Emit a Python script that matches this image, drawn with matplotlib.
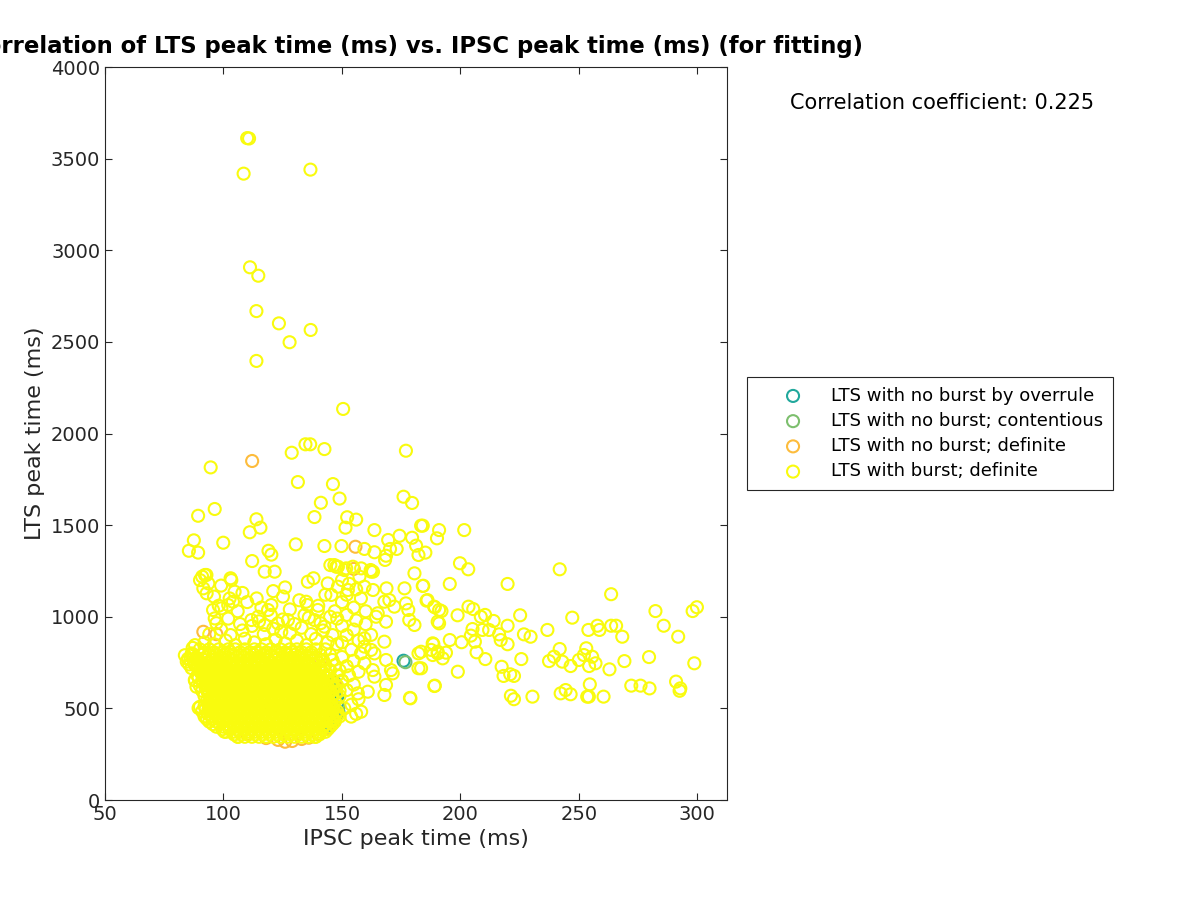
import numpy as np
import matplotlib
matplotlib.use('Agg')
import matplotlib.pyplot as plt

# Colours of the four LTS classes (parula-like, as in the original figure)
COL_OVERRULE = '#21a89c'
COL_CONTENT = '#7dbf6e'
COL_NOBURST = '#fdbc3c'
COL_BURST = '#f9fb0e'

# ---- data: (IPSC peak time, LTS peak time) in ms ----
overrule_pts = [(176.0, 760), (148.5, 480), (148.0, 530), (147.5, 600), (147.0, 445),
                (145.0, 410), (148.0, 560)]
contentious_pts = [(176.8, 752), (147.0, 640), (148.5, 505), (146.5, 580), (144.0, 390)]
noburst_pts = [(112.1, 1850), (155.7, 1382), (155.0, 1261), (91.5, 918), (97.0, 905),
               (126.0, 318), (129.0, 322), (123.0, 328), (133.0, 333), (118.0, 338),
               (136.0, 340), (140.0, 360), (144.0, 391), (146.0, 420), (147.5, 617),
               (141.0, 764), (120.0, 500), (130.0, 450), (110.0, 360)]

# isolated high LTS values
burst_high = [(110.0, 3612), (110.8, 3610), (108.5, 3418), (136.7, 3440), (111.2, 2907),
              (114.7, 2861), (113.9, 2668), (123.4, 2601), (136.8, 2565), (127.9, 2498),
              (113.9, 2396), (150.5, 2134)]

# scattered points between 1100 and 2000 ms
burst_upper = [(94.6, 1815), (128.8, 1895), (134.6, 1941), (136.6, 1941), (142.6, 1915),
               (131.4, 1735), (146.2, 1724), (149.0, 1645), (141.1, 1622), (138.4, 1544),
               (152.2, 1543), (151.5, 1486), (89.3, 1551), (96.3, 1588), (113.9, 1532),
               (115.6, 1486), (111.1, 1461), (87.5, 1417), (85.4, 1360), (89.3, 1350),
               (99.9, 1404), (119.0, 1360), (120.2, 1339), (112.1, 1304), (130.5, 1395),
               (142.6, 1386), (149.8, 1386), (117.4, 1246), (121.6, 1246), (145.1, 1282),
               (148.3, 1273), (91.0, 1219), (92.8, 1228), (103.0, 1210), (177.0, 1906),
               (176.0, 1655), (179.6, 1621), (156.0, 1530), (163.7, 1473),
               (183.4, 1497), (184.1, 1497), (191.0, 1473), (201.6, 1473), (174.3, 1442),
               (169.5, 1419), (179.6, 1431), (190.1, 1428), (159.5, 1370), (163.7, 1352),
               (170.3, 1370), (173.1, 1370), (168.6, 1333), (168.2, 1310), (181.3, 1388),
               (182.3, 1337), (185.2, 1350), (199.8, 1292), (203.3, 1259), (180.6, 1237),
               (147.6, 1273), (151.8, 1264), (158.1, 1264), (162.1, 1255), (163.1, 1246),
               (146.8, 1282), (151.0, 1255), (154.6, 1273), (157.4, 1219), (159.5, 1164),
               (144.0, 1182), (148.3, 1164), (152.5, 1146), (145.5, 1119)]

# long tail to the right
burst_right = [(241.9, 1259), (195.5, 1179), (219.9, 1179), (263.6, 1123), (184.3, 1169),
               (185.7, 1088), (189.2, 1052), (192.0, 1031), (198.8, 1008), (203.4, 1055),
               (205.4, 1042), (208.6, 1000), (210.4, 1010), (214.0, 977), (219.9, 951),
               (225.2, 1008), (191.0, 964), (205.1, 933), (204.4, 897), (209.3, 928),
               (212.1, 928), (216.3, 904), (217.0, 873), (219.9, 850), (226.8, 904),
               (229.6, 891), (236.7, 928), (247.2, 995), (254.0, 928), (257.8, 951),
               (258.7, 928), (263.6, 951), (265.7, 951), (268.3, 891), (282.3, 1031),
               (285.8, 951), (291.9, 891), (298.0, 1031), (299.8, 1052), (298.7, 746),
               (279.6, 780), (269.2, 758), (262.9, 713), (272.1, 624), (276.0, 624),
               (279.8, 609), (291.0, 646), (292.8, 609), (292.5, 596), (241.9, 824),
               (253.1, 828), (252.1, 791), (255.6, 782), (239.5, 782), (237.4, 758),
               (243.0, 755), (246.5, 731), (250.0, 764), (254.3, 731), (257.0, 746),
               (254.6, 631), (254.2, 564), (253.5, 564), (242.3, 582), (244.4, 600),
               (246.5, 577), (260.4, 564), (221.3, 569), (222.6, 550), (230.4, 564),
               (225.7, 769), (217.4, 727), (218.2, 677), (221.0, 686), (222.6, 677),
               (210.5, 769), (206.8, 806), (206.1, 864), (200.5, 861), (195.5, 873),
               (198.9, 700), (189.2, 624), (188.6, 850), (188.3, 791), (190.4, 809),
               (192.5, 773), (193.9, 804), (183.4, 809), (183.4, 719), (178.7, 557)]

# middle band, 150-195 ms
burst_mid = [(184.1, 1168), (176.4, 1155), (168.8, 1155), (163.1, 1146), (162.3, 1246),
             (186.1, 1091), (188.9, 1055), (191.0, 1037), (177.0, 1073), (178.0, 1037),
             (178.4, 982), (180.6, 955), (170.0, 1091), (167.9, 1082), (172.1, 1055),
             (168.6, 973), (164.4, 1000), (165.1, 1019), (190.4, 973), (167.9, 864),
             (163.7, 800), (168.6, 764), (171.4, 691), (170.7, 709), (182.3, 800),
             (182.3, 719), (188.3, 855), (187.6, 819), (190.4, 800), (189.0, 622),
             (178.9, 555), (168.6, 628), (167.9, 573), (163.0, 709), (163.7, 673),
             (159.5, 746), (160.9, 591), (156.7, 582), (158.1, 482), (153.9, 455),
             (162.3, 901), (159.5, 882), (162.3, 819), (159.5, 837), (150.0, 1200),
             (153.0, 1180), (156.0, 1150), (152.0, 1120), (158.0, 1100), (150.0, 1080),
             (155.0, 1050), (160.0, 1030), (152.0, 1010), (148.0, 990), (156.0, 980),
             (150.0, 950), (155.0, 930), (160.0, 960), (152.0, 900), (157.0, 870),
             (150.0, 860), (154.0, 820), (158.0, 800), (150.0, 780), (155.0, 760),
             (152.0, 730), (157.0, 700), (153.0, 680), (150.0, 650), (155.0, 630),
             (152.0, 600), (157.0, 550), (154.0, 520), (151.0, 500), (156.0, 470)]

# top of the main cluster (rings still visible individually)
burst_cluster_top = [(92, 860), (96, 850), (101, 870), (105, 845), (109, 880), (113, 860),
                     (118, 850), (122, 875), (126, 855), (131, 870), (135, 845), (139, 880),
                     (144, 860), (148, 850), (94, 905), (99, 930), (103, 900), (108, 925),
                     (112, 950), (117, 905), (121, 935), (128, 910), (133, 940), (137, 905),
                     (142, 925), (146, 900), (97, 965), (102, 990), (107, 960), (115, 975),
                     (120, 1010), (125, 985), (130, 960), (136, 995), (141, 965), (145, 1000),
                     (98, 1060), (106, 1030), (110, 1080), (116, 1050), (128, 1040),
                     (132, 1090), (140, 1060), (147, 1030), (96, 1110), (108, 1130),
                     (114, 1100), (126, 1160), (121, 1140), (143, 1120), (138, 1210),
                     (99, 1170), (92.2, 1228), (90.1, 1200), (93.6, 1182), (91.5, 1155),
                     (92.9, 1128), (103.3, 1200), (135.6, 1191), (104.7, 1137), (102.6, 1100),
                     (104.0, 1082), (125.1, 1110), (120.2, 1064), (118.8, 1037), (134.9, 1082),
                     (135.4, 1064), (95.6, 1037), (99.1, 1046), (102.0, 1064), (96.3, 991),
                     (111.8, 982), (114.6, 1000), (117.4, 955), (123.0, 964), (127.2, 982),
                     (124.4, 918), (134.2, 1009), (138.4, 982), (139.8, 1037), (142.6, 946),
                     (83.7, 790), (85.0, 770), (84.5, 755), (86.6, 800), (87.9, 655),
                     (88.6, 618), (90.1, 509), (93.6, 491), (89.5, 502), (92.4, 455),
                     (86.5, 720), (85.5, 740), (87.0, 830), (88.0, 845), (100.4, 373),
                     (106.2, 345), (138.6, 345), (148.3, 464)]

# dense core of the cluster, one LTS level per row with its IPSC values
core_lts = [345, 358, 372, 386, 400, 414, 428, 442, 456, 470, 484, 498, 512, 526, 540,
            554, 568, 582, 596, 610, 624, 638, 652, 666, 680, 694, 708, 722, 736, 750,
            764, 778, 792, 806, 822]
core_ipsc = [
    [106, 109, 112, 115, 118, 121, 124, 127, 130, 133, 136, 139],
    [104.5, 107.5, 110.5, 113.5, 116.5, 119.5, 122.5, 125.5, 128.5, 131.5, 134.5, 137.5, 140.5],
    [101, 104, 107, 110, 113, 116, 119, 122, 125, 128, 131, 134, 137, 140, 143],
    [99.5, 102.5, 105.5, 108.5, 111.5, 114.5, 117.5, 120.5, 123.5, 126.5, 129.5, 132.5,
     135.5, 138.5, 141.5, 144],
    [97, 100, 103, 106, 109, 112, 115, 118, 121, 124, 127, 130, 133, 136, 139, 142, 145],
    [95.5, 98.5, 101.5, 104.5, 107.5, 110.5, 113.5, 116.5, 119.5, 122.5, 125.5, 128.5,
     131.5, 134.5, 137.5, 140.5, 143.5, 146],
    [94, 97, 100, 103, 106, 109, 112, 115, 118, 121, 124, 127, 130, 133, 136, 139, 142, 145, 147],
    [93, 95.5, 98.5, 101.5, 104.5, 107.5, 110.5, 113.5, 116.5, 119.5, 122.5, 125.5, 128.5,
     131.5, 134.5, 137.5, 140.5, 143.5, 146.5],
    [92, 95, 98, 101, 104, 107, 110, 113, 116, 119, 122, 125, 128, 131, 134, 137, 140, 143, 146, 149],
    [93.5, 96.5, 99.5, 102.5, 105.5, 108.5, 111.5, 114.5, 117.5, 120.5, 123.5, 126.5,
     129.5, 132.5, 135.5, 138.5, 141.5, 144.5, 147.5],
    [91, 94, 97, 100, 103, 106, 109, 112, 115, 118, 121, 124, 127, 130, 133, 136, 139, 142, 145, 148],
    [92.5, 95.5, 98.5, 101.5, 104.5, 107.5, 110.5, 113.5, 116.5, 119.5, 122.5, 125.5,
     128.5, 131.5, 134.5, 137.5, 140.5, 143.5, 146.5],
    [92, 95, 98, 101, 104, 107, 110, 113, 116, 119, 122, 125, 128, 131, 134, 137, 140, 143, 146],
    [93.5, 96.5, 99.5, 102.5, 105.5, 108.5, 111.5, 114.5, 117.5, 120.5, 123.5, 126.5,
     129.5, 132.5, 135.5, 138.5, 141.5, 144.5],
    [93, 96, 99, 102, 105, 108, 111, 114, 117, 120, 123, 126, 129, 132, 135, 138, 141, 144, 147],
    [94.5, 97.5, 100.5, 103.5, 106.5, 109.5, 112.5, 115.5, 118.5, 121.5, 124.5, 127.5,
     130.5, 133.5, 136.5, 139.5, 142.5, 145.5],
    [92, 95, 98, 101, 104, 107, 110, 113, 116, 119, 122, 125, 128, 131, 134, 137, 140, 143, 146, 149],
    [93.5, 96.5, 99.5, 102.5, 105.5, 108.5, 111.5, 114.5, 117.5, 120.5, 123.5, 126.5,
     129.5, 132.5, 135.5, 138.5, 141.5, 144.5, 147.5],
    [91, 94, 97, 100, 103, 106, 109, 112, 115, 118, 121, 124, 127, 130, 133, 136, 139, 142, 145, 149],
    [92.5, 95.5, 98.5, 101.5, 104.5, 107.5, 110.5, 113.5, 116.5, 119.5, 122.5, 125.5,
     128.5, 131.5, 134.5, 137.5, 140.5, 143.5, 147],
    [90, 93, 96, 99, 102, 105, 108, 111, 114, 117, 120, 123, 126, 129, 132, 135, 138, 141, 144, 148],
    [91.5, 94.5, 97.5, 100.5, 103.5, 106.5, 109.5, 112.5, 115.5, 118.5, 121.5, 124.5,
     127.5, 130.5, 133.5, 136.5, 139.5, 142.5, 146],
    [88, 91, 94, 97, 100, 103, 106, 109, 112, 115, 118, 121, 124, 127, 130, 133, 136, 139, 142, 146, 150],
    [89.5, 92.5, 95.5, 98.5, 101.5, 104.5, 107.5, 110.5, 113.5, 116.5, 119.5, 122.5,
     125.5, 128.5, 131.5, 134.5, 137.5, 140.5, 144],
    [89, 92, 95, 98, 101, 104, 107, 110, 113, 116, 119, 122, 125, 128, 131, 134, 137, 140, 144, 148],
    [90.5, 93.5, 96.5, 99.5, 102.5, 105.5, 108.5, 111.5, 114.5, 117.5, 120.5, 123.5,
     126.5, 129.5, 132.5, 135.5, 138.5, 142],
    [90, 93, 96, 99, 102, 105, 108, 111, 114, 117, 120, 123, 126, 129, 132, 135, 138, 141, 145, 149],
    [89.5, 92.5, 95.5, 98.5, 101.5, 104.5, 107.5, 110.5, 113.5, 116.5, 119.5, 122.5,
     125.5, 128.5, 131.5, 134.5, 137.5, 141],
    [88, 91, 94, 97, 100, 103, 106, 109, 112, 115, 118, 121, 124, 127, 130, 133, 136, 139, 143, 147],
    [87.5, 90.5, 93.5, 96.5, 99.5, 102.5, 105.5, 108.5, 111.5, 114.5, 117.5, 120.5,
     123.5, 126.5, 129.5, 132.5, 135.5, 140],
    [86, 89, 92, 95, 98, 101, 104, 107, 110, 113, 116, 119, 122, 125, 128, 131, 134, 138, 142, 146],
    [88.5, 92.5, 95.5, 98.5, 102, 105.5, 108.5, 111.5, 115, 118.5, 121.5, 125, 128.5,
     131.5, 135, 139],
    [87, 91, 94, 97, 100, 104, 107, 110, 113, 117, 120, 123, 127, 130, 133, 137, 141, 145],
    [92, 96, 100, 103, 107, 111, 114, 118, 122, 126, 129, 133, 137],
    [90, 94, 98, 102, 105, 109, 113, 116, 120, 124, 128, 131, 135, 139, 143],
]

corr_coef = 0.225

# build the burst set
burst_pts = burst_high + burst_upper + burst_right + burst_mid + burst_cluster_top
for lts, row in zip(core_lts, core_ipsc):
    burst_pts = burst_pts + [(x, lts) for x in row]


def xy(pts):
    a = np.array(pts, dtype=float)
    return a[:, 0], a[:, 1]


fig = plt.figure(figsize=(12, 9), dpi=100)
ax = fig.add_axes([105 / 1200, 100 / 900, 622 / 1200, 733 / 900])

msize = 75
mlw = 1.5
groups = [(overrule_pts, COL_OVERRULE, 'LTS with no burst by overrule'),
          (contentious_pts, COL_CONTENT, 'LTS with no burst; contentious'),
          (noburst_pts, COL_NOBURST, 'LTS with no burst; definite'),
          (burst_pts, COL_BURST, 'LTS with burst; definite')]
for pts, c, lab in groups:
    x, y = xy(pts)
    ax.scatter(x, y, s=msize, facecolors='none', edgecolors=c, linewidths=mlw, label=lab)

ax.set_xlim(50, 312.5)
ax.set_ylim(0, 4000)
ax.set_xticks(np.arange(50, 301, 50))
ax.set_yticks(np.arange(0, 4001, 500))

dark = '#262626'
for s in ax.spines.values():
    s.set_color(dark)
    s.set_linewidth(0.8)
ax.tick_params(direction='in', length=5, width=0.8, colors=dark, labelsize=14,
               top=True, right=True)
ax.set_xlabel('IPSC peak time (ms)', fontsize=16, color=dark)
ax.set_ylabel('LTS peak time (ms)', fontsize=16, color=dark)
ax.set_title('Correlation of LTS peak time (ms) vs. IPSC peak time (ms) (for fitting)',
             fontsize=16.4, fontweight='bold', pad=10)

fig.text(790 / 1200, 1 - 103 / 900, 'Correlation coefficient: %.3f' % corr_coef,
         fontsize=15, va='center', ha='left')

leg = ax.legend(loc='center left', bbox_to_anchor=(747 / 1200, 1 - 433.5 / 900),
                bbox_transform=fig.transFigure, fontsize=13, scatterpoints=1,
                fancybox=False, framealpha=1, edgecolor=dark, borderpad=0.55,
                borderaxespad=0, handlelength=4.0, handletextpad=0.1,
                labelspacing=0.4)
leg.get_frame().set_linewidth(0.8)

fig.savefig('out.png', dpi=100)
